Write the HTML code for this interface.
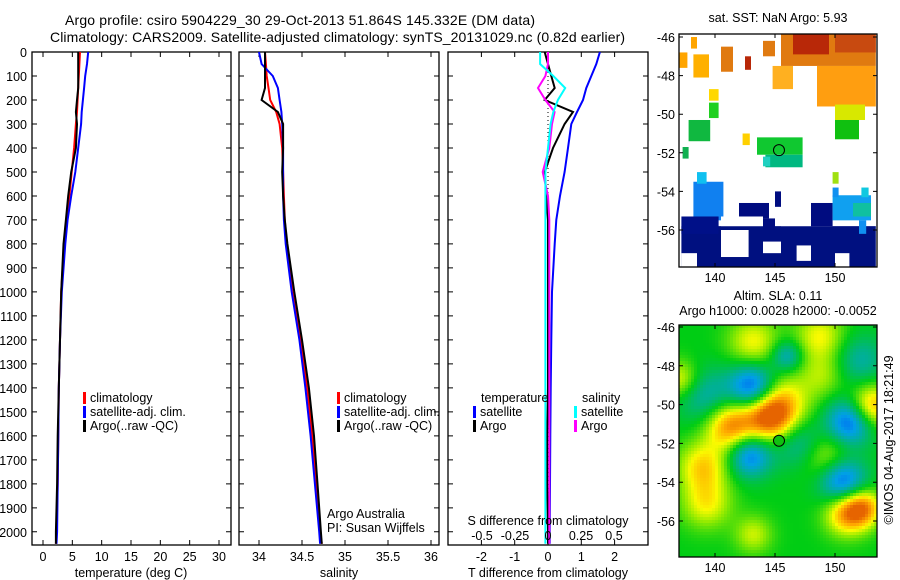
<!DOCTYPE html>
<html><head><meta charset="utf-8"><style>
body{margin:0;background:#fff}
svg{display:block;font-family:"Liberation Sans",sans-serif}
text{font-size:12.5px;fill:#000}
</style></head><body>
<svg id="fig" width="900" height="580" viewBox="0 0 900 580">
<text x="65" y="25" textLength="470" style="font-size:14px">Argo profile: csiro 5904229_30 29-Oct-2013 51.864S 145.332E (DM data)</text>
<text x="50" y="42" textLength="575" style="font-size:14px">Climatology: CARS2009. Satellite-adjusted climatology: synTS_20131029.nc (0.82d earlier)</text>
<g id="g1"></g>
<g id="g2"></g>
<g id="g3"></g>
<g id="m1"></g>
<g id="m2"></g>
<text x="778" y="22" text-anchor="middle">sat. SST: NaN Argo: 5.93</text>
<text x="778" y="300" text-anchor="middle">Altim. SLA: 0.11</text>
<text x="778" y="315" text-anchor="middle">Argo h1000: 0.0028 h2000: -0.0052</text>
<text transform="translate(893,440) rotate(-90)" text-anchor="middle">©IMOS 04-Aug-2017 18:21:49</text>
</svg>
<script>
const depths=[0,50,100,150,200,250,300,400,500,600,700,800,1000,1200,1400,1600,1800,2000,2050];
const tempClim=[6.3,6.2,6.1,6.0,5.9,5.8,5.6,5.3,4.9,4.5,4.0,3.6,3.1,2.9,2.7,2.6,2.5,2.3,2.2];
const tempSat=[7.7,7.5,7.2,7.0,6.8,6.6,6.5,6.0,5.5,4.8,4.2,3.8,3.2,2.9,2.7,2.6,2.5,2.4,2.3];
const tempArgo=[6.0,6.0,6.0,6.0,5.8,5.6,5.8,5.6,4.8,4.3,3.9,3.5,3.1,2.9,2.7,2.5,2.4,2.2,2.2];
const salClim=[34.07,34.08,34.09,34.11,34.13,34.2,34.24,34.27,34.28,34.29,34.3,34.32,34.39,34.48,34.56,34.62,34.66,34.71,34.73];
const salSat=[34.0,34.03,34.16,34.22,34.24,34.26,34.27,34.28,34.28,34.28,34.29,34.31,34.38,34.47,34.54,34.6,34.65,34.7,34.71];
const salArgo=[34.07,34.07,34.07,34.07,34.03,34.22,34.28,34.28,34.27,34.28,34.3,34.33,34.41,34.5,34.58,34.64,34.68,34.72,34.73];
const tdSat=[1.56,1.45,1.3,1.15,1.05,0.87,0.7,0.6,0.5,0.36,0.25,0.2,0.12,0.1,0.08,0.07,0.06,0.05,0.05];
const tdArgo=[-0.1,0.0,0.1,0.2,-0.1,0.75,0.5,0.15,-0.1,-0.05,0,0,0,0,0,-0.02,-0.02,0,0];
const sdSat=[-0.06,-0.06,0.04,0.13,0.075,0.04,0.02,0.0,-0.02,-0.02,-0.02,-0.02,-0.02,-0.02,-0.02,-0.02,-0.02,-0.02,-0.02];
const sdArgo=[0,0,-0.02,-0.076,-0.02,0.05,0.03,0.01,-0.04,0.0,0.01,0.01,0.01,0.01,0.01,0.01,0.01,0.01,0.01];
const depthTicks=[0,100,200,300,400,500,600,700,800,900,1000,1100,1200,1300,1400,1500,1600,1700,1800,1900,2000];
const tempTicks=[0,5,10,15,20,25,30];
const salTicks=[34,34.5,35,35.5,36];
const tdTicks=[-2,-1,0,1,2];
const sdTicks=[-0.5,-0.25,0,0.25,0.5];
const sdTickLabels=["-0.5","-0.25","0","0.25","0.5"];
// SST patches: [lon0, lon1, lat0(north), lat1(south), color]
const sstPatches=[
[145.5,153.4,-45.85,-47.5,"#e07a10"],[146.5,149.5,-45.85,-46.9,"#b82808"],[150,153.4,-45.85,-46.8,"#c84a10"],
[148.5,153.4,-47.5,-49.6,"#ff9e10"],[150,152.5,-49.5,-50.3,"#d8e800"],[150,152,-50.3,-51.3,"#10c010"],
[144.8,146.5,-47.5,-48.7,"#ffb020"],[144,145,-46.2,-47,"#e07a10"],[142.5,143,-47,-47.7,"#b82808"],
[137,137.7,-46.8,-47.6,"#ffa500"],[138.2,139.5,-46.9,-48.1,"#ffb000"],[139.5,140.3,-48.7,-49.3,"#ffd800"],
[139.5,140.3,-49.4,-50.2,"#20d020"],[140.5,141.5,-46.5,-47.8,"#e07a10"],[138,138.5,-46,-46.6,"#ffa500"],
[137.8,139.6,-50.3,-51.4,"#10b840"],[137.3,137.8,-51.7,-52.3,"#10b050"],[142.3,142.9,-51,-51.6,"#ffd000"],
[143.5,147.3,-51.2,-52.1,"#10c830"],[144.2,147.3,-52.1,-52.75,"#00b880"],[144,144.6,-52.2,-52.7,"#20d0c0"],
[149.8,150.3,-53,-53.6,"#a0e010"],[138.2,140.7,-53.5,-55.5,"#1080f0"],[138.5,139.3,-53,-53.6,"#10c0f0"],
[137.2,153.4,-55.8,-57.9,"#001080"],[142,144.5,-54.6,-55.4,"#000c80"],[145,145.5,-54,-54.8,"#000c80"],
[148,149.8,-54.6,-55.8,"#000c80"],[144,145,-55.4,-56,"#000c80"],[137.2,140.3,-55.3,-56.2,"#001088"],
[149.8,153,-54.2,-55.5,"#10a0f0"],[151.5,153,-54.6,-55.3,"#10c0a0"],[149.8,150.3,-53.8,-54.3,"#1090f0"],
[152.2,152.8,-53.8,-54.3,"#10c8e0"],[152,152.6,-55.5,-56.2,"#1090f0"]];
const sstGaps=[[137.2,138.5,-57.2,-57.9],[140.5,142.8,-56,-57.4],[144,145.5,-56.6,-57.2],[146.8,148,-56.8,-57.6],[150,151.2,-57.2,-57.9],[140.5,144,-55.3,-55.8],[145.5,148,-55.3,-55.8]];
// SLA anomaly blobs: [lon, lat, amplitude, sigma(deg lat)]
const slaBlobs=[[143.2,-49.1,-1.0,0.75],[151.25,-50.9,-0.9,0.75],[142.9,-52.6,-0.8,0.7],[150.6,-53.9,-0.9,0.75],
[146,-47.5,-0.55,0.5],[139.3,-49.6,-0.45,0.9],[147.1,-52,-0.45,0.8],[152.1,-47.7,-0.4,0.8],
[144.6,-50.6,0.95,0.8],[141.3,-51.1,0.9,0.8],[145.5,-49.8,0.5,1.0],[153,-50.1,0.8,0.7],
[151,-55.6,0.8,0.7],[152.4,-55.3,0.7,0.6],[143.2,-46.8,0.5,0.8],[148.75,-46.5,0.5,0.8],
[139,-53.2,0.6,0.8],[139.3,-55.1,0.5,0.8],[149.3,-52.7,0.5,0.8],[137.1,-48.7,0.5,0.6],[143.2,-56.7,0.4,0.6],[149,-48.5,0.3,0.7]];
const argoLon=145.332, argoLat=-51.864;

const NS="http://www.w3.org/2000/svg";
function mk(parent,tag,attrs){const e=document.createElementNS(NS,tag);for(const k in attrs)e.setAttribute(k,attrs[k]);parent.appendChild(e);return e;}
const Y0=52,Y1=545;
const yD=d=>Y0+d*(Y1-Y0)/2055;
const xT=v=>43+(v-0)*(219-43)/30;
const xS=v=>259+(v-34)*(431-259)/2;
const xTD=v=>548+v*33.3;
const xSD=v=>548+v*132;

function frame(g,x0,x1){
  const r=mk(g,'rect',{x:x0,y:Y0,width:x1-x0,height:Y1-Y0,fill:'none',stroke:'#000','stroke-width':1.3});
  
  depthTicks.forEach(d=>{const y=yD(d);
    const t=mk(g,'path',{d:`M${x0} ${y}h5M${x1} ${y}h-5`,stroke:'#000'});
    });
}
function xticks(g,ticks,fx,labels){
  ticks.forEach((v,i)=>{const x=fx(v);
    const t=mk(g,'path',{d:`M${x} ${Y1}v-5M${x} ${Y0}v5`,stroke:'#000'});
    
    const l=mk(g,'text',{x:x,y:561,'text-anchor':'middle'});l.textContent=labels?labels[i]:String(v);
    });
}
function line(g,xs,fx,color,name,w){
  const p=depths.map((d,i)=>`${i?'L':'M'}${fx(xs[i]).toFixed(1)} ${yD(d).toFixed(1)}`).join('');
  const e=mk(g,'path',{d:p,fill:'none',stroke:color,'stroke-width':w||2});
  
}
function label(g,x,y,txt,name,anchor){const l=mk(g,'text',{x:x,y:y,'text-anchor':anchor||'start'});l.textContent=txt;
  return l;}
function legEntry(g,x,y,color,txt){const b=mk(g,'rect',{x:x,y:y-10,width:3,height:12,fill:color});
  
  label(g,x+7,y,txt,'legend-entry');}

const g1=document.getElementById('g1');
frame(g1,32,231);
depthTicks.forEach(d=>label(g1,27,yD(d)+5,String(d),'y-tick-label','end'));
xticks(g1,tempTicks,xT);
line(g1,tempClim,xT,'#f00','temp-climatology-line');
line(g1,tempSat,xT,'#00f','temp-satellite-line');
line(g1,tempArgo,xT,'#000','temp-argo-line');
label(g1,131,577,'temperature (deg C)','x-axis-title','middle');
legEntry(g1,83,402,'#f00','climatology');legEntry(g1,83,416,'#00f','satellite-adj. clim.');legEntry(g1,83,430,'#000','Argo(..raw -QC)');
const g2=document.getElementById('g2');
frame(g2,239,439);
xticks(g2,salTicks,xS);
line(g2,salClim,xS,'#f00','sal-climatology-line');
line(g2,salSat,xS,'#00f','sal-satellite-line');
line(g2,salArgo,xS,'#000','sal-argo-line');
label(g2,339,577,'salinity','x-axis-title','middle');
legEntry(g2,337,402,'#f00','climatology');legEntry(g2,337,416,'#00f','satellite-adj. clim.');legEntry(g2,337,430,'#000','Argo(..raw -QC)');
label(g2,327,518,'Argo Australia','credit-argo-australia');
label(g2,327,532,'PI: Susan Wijffels','credit-pi');
const g3=document.getElementById('g3');
frame(g3,448,648);
xticks(g3,tdTicks,xTD);
const dz=mk(g3,'path',{d:`M${xTD(0)} ${yD(0)}V${yD(2000)}`,stroke:'#000','stroke-dasharray':'1 3'});

line(g3,tdSat,xTD,'#00f','tdiff-satellite-line');
line(g3,tdArgo,xTD,'#000','tdiff-argo-line');
line(g3,sdArgo,xSD,'#f0f','sdiff-argo-line');
line(g3,sdSat,xSD,'#0ff','sdiff-satellite-line');
sdTicks.forEach((v,i)=>label(g3,xSD(v),540,sdTickLabels[i],'s-tick-label','middle'));
label(g3,548,525,'S difference from climatology','s-axis-title','middle');
label(g3,548,577,'T difference from climatology','x-axis-title','middle');
label(g3,481,402,'temperature','legend-heading');label(g3,582,402,'salinity','legend-heading');
legEntry(g3,473,416,'#00f','satellite');legEntry(g3,473,430,'#000','Argo');
legEntry(g3,574,416,'#0ff','satellite');legEntry(g3,574,430,'#f0f','Argo');

const MX0=679,MX1=877;
const mx=l=>679+(l-137)*12;
function mapAxes(g,top,bottom,ly){
  const r=mk(g,'rect',{x:MX0,y:top,width:MX1-MX0,height:bottom-top,fill:'none',stroke:'#000','stroke-width':1.3});
  
  [140,145,150].forEach(l=>{const x=mx(l);
    const t=mk(g,'path',{d:`M${x} ${bottom}v-4M${x} ${top}v4`,stroke:'#000'});
    
    label(g,x,bottom+15,String(l),'lon-tick-label','middle');});
  [-46,-48,-50,-52,-54,-56].forEach(l=>{const y=ly(l);
    const t=mk(g,'path',{d:`M${MX0} ${y}h4M${MX1} ${y}h-4`,stroke:'#000'});
    
    label(g,675,y+5,String(l),'lat-tick-label','end');});
}
const m1=document.getElementById('m1');
const ly1=l=>37+(-46-l)*19.3;
const T1=34,B1=267;
const clip=mk(document.getElementById('fig'),'clipPath',{id:'c1'});mk(clip,'rect',{x:MX0,y:T1,width:MX1-MX0,height:B1-T1});
const c2=mk(document.getElementById('fig'),'clipPath',{id:'c2'});mk(c2,'rect',{x:MX0,y:325,width:MX1-MX0,height:232});
const p1=mk(m1,'g',{'clip-path':'url(#c1)'});
sstPatches.forEach(p=>{const e=mk(p1,'rect',{x:mx(p[0]),y:ly1(p[2]),width:(p[1]-p[0])*12,height:(p[2]-p[3])*19.3,fill:p[4]});
  });
sstGaps.forEach(p=>{const e=mk(p1,'rect',{x:mx(p[0]),y:ly1(p[2]),width:(p[1]-p[0])*12,height:(p[2]-p[3])*19.3,fill:'#fff'});
  });
mapAxes(m1,T1,B1,ly1);
const k1=mk(m1,'circle',{cx:mx(argoLon),cy:ly1(argoLat),r:5.5,fill:'none',stroke:'#000'});


const m2=document.getElementById('m2');
const ly2=l=>327+(-46-l)*19.4;
const p2=mk(m2,'g',{'clip-path':'url(#c2)'});
const stops=[[-1,[0,60,255]],[-0.6,[0,160,230]],[-0.3,[0,180,130]],[0,[0,205,20]],[0.3,[150,235,0]],[0.5,[250,250,0]],[0.75,[255,170,0]],[1,[230,100,0]]];
function cmap(v){v=Math.max(-1,Math.min(1,v));for(let i=1;i<stops.length;i++){if(v<=stops[i][0]){const a=stops[i-1],b=stops[i],t=(v-a[0])/(b[0]-a[0]);
  return 'rgb('+a[1].map((c,j)=>Math.round(c+(b[1][j]-c)*t)).join(',')+')';}}return 'rgb(230,100,0)';}
for(let x=MX0;x<MX1;x+=3){for(let y=325;y<557;y+=3){
  const px=x+1.5, py=y+1.5;
  let v=0;slaBlobs.forEach(b=>{const dx=px-mx(b[0]),dy=py-ly2(b[1]);const s=b[3]*22;v+=b[2]*Math.exp(-(dx*dx+dy*dy)/(2*s*s));});
  const e=mk(p2,'rect',{x:x,y:y,width:3,height:3,fill:cmap(v)});
  
  
}}
mapAxes(m2,325,557,ly2);
const k2=mk(m2,'circle',{cx:mx(argoLon),cy:ly2(argoLat),r:5.5,fill:'#10c010',stroke:'#000'});

</script>
</body></html>
